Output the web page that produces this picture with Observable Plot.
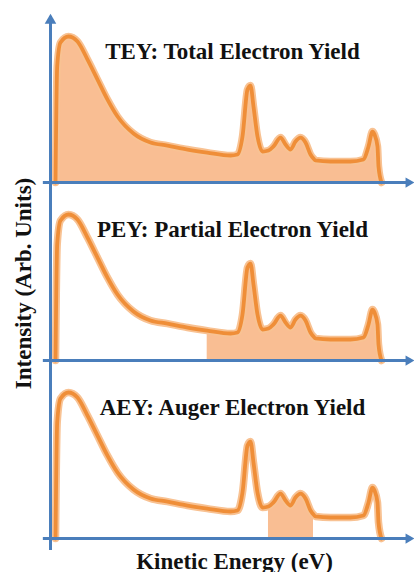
<!DOCTYPE html>
<html>
<head>
<meta charset="utf-8">
<script src="https://cdn.jsdelivr.net/npm/d3@7"></script>
<script src="https://cdn.jsdelivr.net/npm/@observablehq/plot@0.6"></script>
<style>
  html, body { margin: 0; padding: 0; background: #fff; }
  #chart svg { display: block; }
</style>
</head>
<body>
<div id="chart"></div>
<script>
// Panels (top to bottom) and their titles
const panels = ["TEY", "PEY", "AEY"];
const titles = ["TEY: Total Electron Yield", "PEY: Partial Electron Yield", "AEY: Auger Electron Yield"];

// Schematic electron yield spectrum (same shape in each panel), arbitrary units
const energy = [1.4, 1.87, 2.79, 5.03, 7.54, 10.34, 13.13, 15.92, 18.72, 23.18, 27.93, 32.68, 38.27, 43.77,
  50.28, 52.23, 53.63, 55.03, 55.87, 56.7, 57.82, 59.22, 60.89, 62.29, 64.25, 65.64, 67.04, 68.44,
  69.83, 71.23, 72.63, 73.46, 74.02, 78.21, 83.8, 87.43, 88.83, 89.94, 90.5, 91.34, 91.62, 92.46];
const intensity = [0, 79.5, 95.9, 100, 96.6, 84.2, 70.5, 56.8, 45.2, 33.6, 27.4, 25.3, 22.6, 20.5,
  18.5, 19.2, 31.5, 63.7, 66.4, 52.1, 31.5, 21.2, 21.9, 24.7, 30.8, 26.0, 22.6, 28.1,
  30.8, 27.4, 19.2, 16.4, 15.1, 14.4, 14.4, 15.8, 24.7, 34.9, 32.9, 24.7, 11.0, 0];

// Energy window that each detection mode collects (shaded)
const windowFrom = [0, 43.77, 60.89];
const windowTo = [100, 100, 73.46];

const xLabel = "Kinetic Energy (eV)";
const yLabel = "Intensity (Arb. Units)";

// Build tables
const curve = panels.flatMap((p) => energy.map((e, i) => ({panel: p, e, v: intensity[i]})));
const shaded = panels.flatMap((p, k) =>
  energy.map((e, i) => ({panel: p, e, v: intensity[i]}))
        .filter((d) => d.e >= windowFrom[k] && d.e <= windowTo[k]));
const titleRows = panels.map((p, i) => ({panel: p, title: titles[i]}));

const blue = "#4A7EBB";
const xDomain = [0, 100];
const yDomain = [-8.2, 113.7];
const axisStart = -2;

const chart = Plot.plot({
  width: 414,
  height: 572,
  marginLeft: 50,
  marginRight: 6,
  marginTop: 16,
  marginBottom: 22,
  style: {fontFamily: "'Liberation Serif', 'Times New Roman', serif", background: "#fff"},
  x: {domain: xDomain, axis: null},
  y: {domain: yDomain, axis: null},
  fy: {domain: panels, padding: 0, axis: null},
  marks: [
    Plot.areaY(shaded, {x: "e", y: "v", z: "panel", fy: "panel", fill: "#F9BE93", curve: "monotone-x"}),
    Plot.line(curve, {x: "e", y: "v", z: "panel", fy: "panel", stroke: "#F8C293", strokeWidth: 7.5, curve: "monotone-x", strokeLinejoin: "round", strokeLinecap: "round"}),
    Plot.line(curve, {x: "e", y: "v", z: "panel", fy: "panel", stroke: "#EF8E38", strokeWidth: 3.8, curve: "monotone-x", strokeLinejoin: "round", strokeLinecap: "round"}),
    // axes
    Plot.ruleX(panels, {fy: (d) => d, x: xDomain[0], stroke: blue, strokeWidth: 3}),
    Plot.ruleY(panels, {fy: (d) => d, y: 0, x1: axisStart, x2: xDomain[1], stroke: blue, strokeWidth: 3}),
    Plot.dot(panels, {fy: (d) => d, x: xDomain[1], y: 0, symbol: "triangle", r: 3.8, rotate: 90, fill: blue, stroke: "none"}),
    Plot.dot(["TEY"], {fy: (d) => d, x: xDomain[0], y: yDomain[1], dy: 4, symbol: "triangle", r: 4.3, fill: blue, stroke: "none"}),
    // titles
    Plot.text(titleRows, {fy: "panel", text: "title", frameAnchor: "top", dx: 3, dy: 42, lineAnchor: "bottom",
      fontSize: 23, fontWeight: "bold", fill: "#111"}),
    // axis labels
    Plot.text([yLabel], {fy: () => "PEY", text: (d) => d, frameAnchor: "left", textAnchor: "middle", dx: -20, rotate: -90, lineAnchor: "bottom",
      fontSize: 23, fontWeight: "bold", fill: "#111"}),
    Plot.text([xLabel], {fy: () => "AEY", text: (d) => d, frameAnchor: "bottom", dx: 5, dy: 18, lineAnchor: "bottom",
      fontSize: 23, fontWeight: "bold", fill: "#111"})
  ]
});
document.getElementById("chart").appendChild(chart);
</script>
</body>
</html>
